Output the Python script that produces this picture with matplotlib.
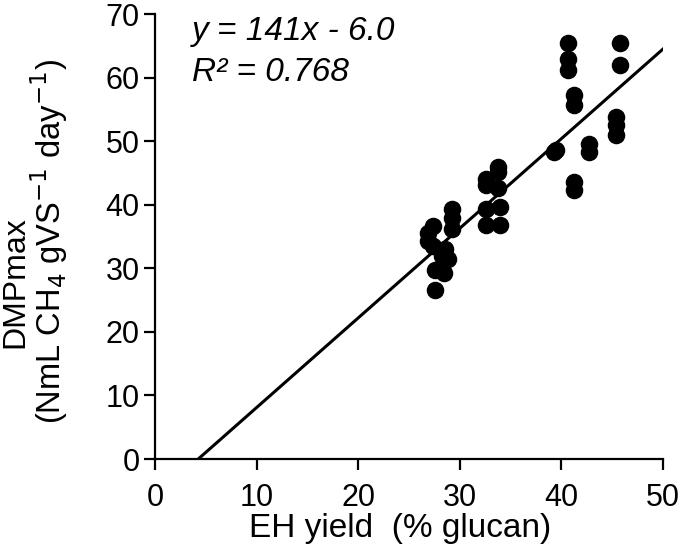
import numpy as np
import matplotlib
matplotlib.use("Agg")
import matplotlib.pyplot as plt

plt.rcParams['font.family'] = ['Liberation Sans', 'DejaVu Sans']

# EH yield (% glucan) vs DMPmax
eh_yield = [26.9, 26.9, 27.4, 27.4, 27.6, 27.6, 28.2, 28.4, 28.5, 28.8, 29.2, 29.2, 29.2,
            32.6, 32.6, 32.6, 32.6, 33.8, 33.8, 33.8, 34.0, 34.0,
            39.3, 39.5, 40.6, 40.6, 40.6, 41.2, 41.2, 41.2, 41.2, 42.7, 42.7,
            45.4, 45.4, 45.4, 45.8, 45.8]
dmp_max = [35.5, 34.3, 36.7, 33.5, 29.8, 26.6, 32.0, 29.2, 33.0, 31.4, 39.4, 37.9, 36.2,
           44.1, 43.1, 39.4, 36.8, 46.0, 45.2, 42.6, 39.7, 36.8,
           48.3, 48.6, 65.4, 63.0, 61.2, 57.2, 55.7, 43.6, 42.3, 49.5, 48.3,
           53.8, 52.5, 50.9, 65.4, 62.0]

# linear fit reported on the chart (x as a fraction)
slope = 141
intercept = -6.0
r2 = 0.768

fig = plt.figure(figsize=(6.85, 5.58), dpi=100)
ax = fig.add_axes([0.2263, 0.1774, 0.7417, 0.7975])

ax.scatter(eh_yield, dmp_max, s=135, color='black', zorder=3)

x0 = -intercept / slope * 100
xl = np.array([x0, 50])
ax.plot(xl, slope * xl / 100 + intercept, color='black', lw=2.2, zorder=2)

ax.set_xlim(0, 50)
ax.set_ylim(0, 70)
ax.set_xticks(range(0, 51, 10))
ax.set_yticks(range(0, 71, 10))
for s in ['top', 'right']:
    ax.spines[s].set_visible(False)
for s in ['left', 'bottom']:
    ax.spines[s].set_linewidth(1.6)
ax.tick_params(direction='out', length=8, width=1.6, labelsize=22)
ax.tick_params(axis='x', pad=9)
ax.tick_params(axis='y', pad=3)

ax.set_xlabel('EH yield  (% glucan)', fontsize=24)
ax.xaxis.set_label_coords(0.482, -0.122)

# two-line y title, placed line by line
fig.text(15 / 685, 1 - 282 / 558, 'DMPmax', rotation=90, fontsize=23,
         ha='center', va='center')
fig.text(49 / 685, 1 - 242 / 558, '(NmL CH$_4$ gVS$^{-1}$ day$^{-1}$)', rotation=90,
         fontsize=23.5, ha='center', va='center')

ax.text(0.073, 0.96, 'y = 141x - 6.0', transform=ax.transAxes, fontsize=24,
        style='italic', va='center')
ax.text(0.073, 0.869, f'R² = {r2}', transform=ax.transAxes, fontsize=24,
        style='italic', va='center')

fig.savefig('out.png', dpi=100)
